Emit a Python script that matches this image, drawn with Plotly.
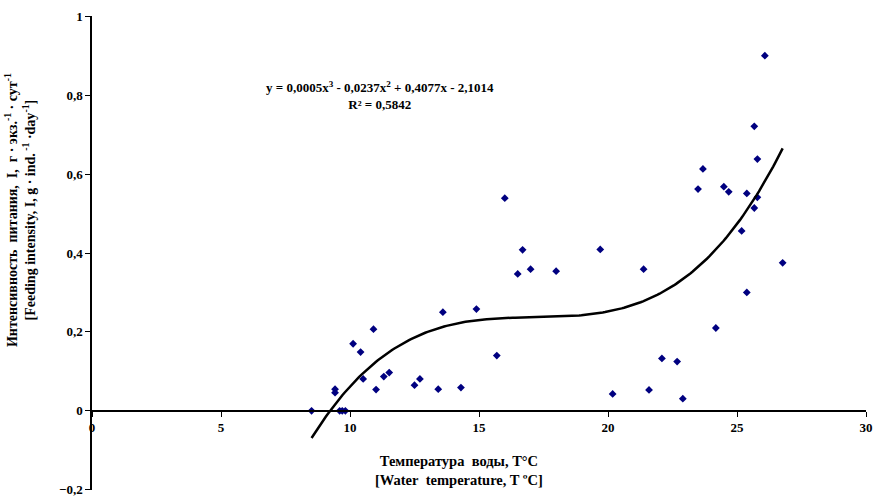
import numpy as np
import plotly.graph_objects as go

# Water temperature, T °C
temperature = [8.51, 9.42, 9.42, 9.60, 9.70, 9.82, 10.12, 10.41, 10.51, 10.91,
               11.01, 11.31, 11.52, 12.50, 12.71, 13.42, 13.60, 14.30, 14.90, 15.69,
               16.00, 16.50, 16.69, 17.00, 17.99, 19.70, 20.18, 21.38, 21.59, 22.09,
               22.68, 22.90, 23.49, 23.68, 24.18, 24.49, 24.68, 25.18, 25.38, 25.38,
               25.67, 25.67, 25.79, 25.79, 26.08, 26.77]
# Feeding intensity, I
intensity = [0.0, 0.055, 0.046, 0.0, 0.0, 0.0, 0.170, 0.149, 0.081, 0.207,
             0.054, 0.087, 0.097, 0.065, 0.081, 0.055, 0.250, 0.059, 0.258, 0.140,
             0.539, 0.347, 0.408, 0.359, 0.354, 0.409, 0.043, 0.359, 0.053, 0.133,
             0.125, 0.031, 0.562, 0.613, 0.210, 0.568, 0.555, 0.456, 0.551, 0.300,
             0.721, 0.514, 0.638, 0.541, 0.900, 0.375]

x_ticks = [0, 5, 10, 15, 20, 25, 30]
y_ticks = [-0.2, 0, 0.2, 0.4, 0.6, 0.8, 1]

S2 = "&nbsp; "
equation_text = ("y = 0,0005x<sup>3</sup> - 0,0237x<sup>2</sup> + 0,4077x - 2,1014"
                 "<br>R² = 0,5842")
x_title = f"Температура{S2}воды, Т°С<br>[Water{S2}temperature, T ºC]"
y_title = (f"Интенсивность{S2}питания,{S2}I,{S2}г · экз.<sup>-1</sup> · сут<sup>-1</sup>"
           "<br>[Feeding intensity, I, g · ind.<sup> -1</sup> ·day<sup>-1</sup>]")

# polynomial (3rd order) trend line fitted to the data
coef = np.polyfit(temperature, intensity, 3)
tx = np.linspace(min(temperature), max(temperature), 200)
ty = np.polyval(coef, tx)

FONT = "Liberation Serif, Times New Roman, serif"

fig = go.Figure()
fig.add_trace(go.Scatter(x=temperature, y=intensity, mode="markers",
                         marker=dict(symbol="diamond", size=6, color="#000080"),
                         showlegend=False))
fig.add_trace(go.Scatter(x=tx, y=ty, mode="lines",
                         line=dict(color="black", width=2.5),
                         showlegend=False))

fig.update_layout(
    width=879, height=496,
    margin=dict(l=92, r=8, t=16, b=6),
    paper_bgcolor="white", plot_bgcolor="white",
    separators=", ",
    font=dict(family=FONT, size=12, color="black"),
    xaxis=dict(range=[0, 30], tickvals=x_ticks, showgrid=False, zeroline=False,
               showline=True, linecolor="black", linewidth=1.5,
               ticks="outside", ticklen=5, tickcolor="black",
               anchor="free", position=0.2 / 1.2,
               tickfont=dict(family=FONT, size=13, color="black", weight="bold")),
    yaxis=dict(range=[-0.2005, 1.0005], tickvals=y_ticks, showgrid=False, zeroline=False,
               showline=True, linecolor="black", linewidth=1.5,
               ticks="outside", ticklen=5, tickcolor="black", automargin=False,
               ticklabeloverflow="allow",
               tickfont=dict(family=FONT, size=13, color="black", weight="bold")),
)

fig.add_annotation(text=equation_text, x=(382 - 92) / 26.0, xref="x",
                   y=1 - (95 - 16) / 395.0, yref="y",
                   showarrow=False, xanchor="center", yanchor="middle", align="center",
                   font=dict(family=FONT, size=13, weight="bold"))
fig.add_annotation(text=x_title, x=(462 - 92) / 26.0, xref="x",
                   y=0, yref="paper", yanchor="bottom", showarrow=False,
                   align="center", font=dict(family=FONT, size=14.5, weight="bold"))
fig.add_annotation(text=y_title, x=0, xref="paper", xanchor="center", xshift=20 - 92,
                   y=1 - (210 - 16) / 395.0, yref="y", textangle=-90,
                   showarrow=False, align="center",
                   font=dict(family=FONT, size=14, weight="bold"))

fig.write_html("out.html", config={"displayModeBar": False},
               post_script="document.body.style.margin='0px';")
